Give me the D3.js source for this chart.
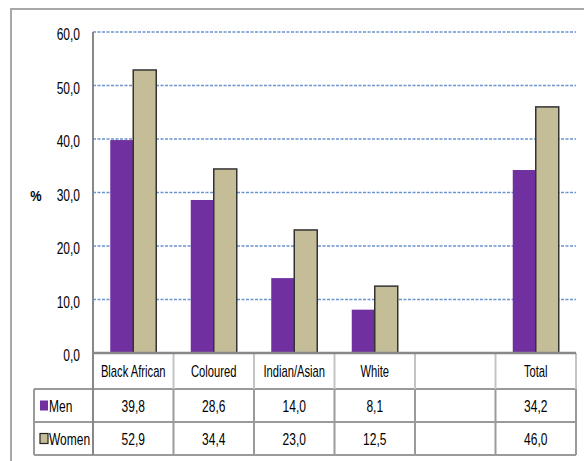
<!DOCTYPE html>
<html><head><meta charset="utf-8">
<script src="https://cdn.jsdelivr.net/npm/d3@7"></script>
<style>
body{margin:0;background:#fff;}
svg text{font-family:"Liberation Sans",Arial,sans-serif;fill:#000;}
</style></head>
<body><svg id="c" width="584" height="461"></svg>
<script>
const categories = ["Black African","Coloured","Indian/Asian","White","","Total"];
const men = [39.8, 28.6, 14.0, 8.1, null, 34.2];
const women = [52.9, 34.4, 23.0, 12.5, null, 46.0];
const seriesNames = ["Men","Women"];
const yTicks = [0,10,20,30,40,50,60];

const colors = {Men:"#7030A0", Women:"#C4BD97"};
const fmt = v => v==null ? "" : v.toFixed(1).replace(".", ",");

const svg = d3.select("#c");
const L = 93, R = 576, T = 32, B = 353;
const rowH = [36, 33, 33];
const SX = 0.75;

// condensed text helper
function ctext(parent, x, y, str, opts={}){
  const g = parent.append("g").attr("transform",`translate(${x},${y}) scale(${opts.sx||SX},1)`);
  return g.append("text").attr("x",0).attr("y",0)
    .attr("text-anchor",opts.anchor||"start")
    .attr("font-size",opts.size||16)
    .attr("font-weight",opts.weight||null)
    .text(str);
}

// outer frame
svg.append("path").attr("d",`M11,461 V9 H584`).attr("fill","none").attr("stroke","#a8a8a8").attr("stroke-width",2);

const x = d3.scaleBand().domain(d3.range(categories.length)).range([L,R]).paddingInner(0).paddingOuter(0);
const y = d3.scaleLinear().domain([0,60]).range([B,T]);
const xs = d3.scaleBand().domain(seriesNames).range([0,x.bandwidth()]).paddingInner(0).paddingOuter(0.75);

// gridlines
svg.append("g").selectAll("line").data(yTicks.filter(t=>t>0)).join("line")
  .attr("x1",L).attr("x2",R).attr("y1",d=>y(d)).attr("y2",d=>y(d))
  .attr("stroke","#6b93cc").attr("stroke-width",1.3).attr("stroke-dasharray","3,1.5");

// y tick labels
const ga = svg.append("g");
yTicks.forEach(t=>{
  ctext(ga, 80, y(t)+8, t.toFixed(1).replace(".",","), {anchor:"end", size:16});
});

ctext(svg, 36, y(30)+8, "%", {anchor:"middle", size:15, weight:"bold", sx:0.85});

// bars
const data = [];
categories.forEach((c,i)=>{
  if(men[i]!=null) data.push({i, s:"Men", v:men[i]});
  if(women[i]!=null) data.push({i, s:"Women", v:women[i]});
});
svg.append("g").selectAll("rect").data(data).join("rect")
  .attr("x",d=>x(d.i)+xs(d.s))
  .attr("width",xs.bandwidth())
  .attr("y",d=>y(d.v))
  .attr("height",d=>B-y(d.v))
  .attr("fill",d=>colors[d.s])
  .attr("stroke",d=>d.s==="Women"?"#333":"none")
  .attr("stroke-width",1.5);

// table
const tg = svg.append("g");
const y0 = B, y1 = B+rowH[0], y2 = y1+rowH[1], y3 = y2+rowH[2];
const lineC = "#9a9a9a";
[[34,R,y1],[34,R,y2],[34,R,y3]].forEach(([a,b,yy])=>{
  tg.append("line").attr("x1",a).attr("x2",b).attr("y1",yy).attr("y2",yy).attr("stroke",lineC).attr("stroke-width",2);
});
categories.forEach((c,i)=>{
  if(i>0){
    tg.append("line").attr("x1",x(i)).attr("x2",x(i)).attr("y1",y0).attr("y2",y1).attr("stroke","#c4c4c4").attr("stroke-width",2);
    tg.append("line").attr("x1",x(i)).attr("x2",x(i)).attr("y1",y1).attr("y2",y3).attr("stroke",lineC).attr("stroke-width",2);
  }
});
tg.append("line").attr("x1",R).attr("x2",R).attr("y1",y0).attr("y2",y1).attr("stroke","#c4c4c4").attr("stroke-width",2);
tg.append("line").attr("x1",R).attr("x2",R).attr("y1",y1).attr("y2",y3).attr("stroke",lineC).attr("stroke-width",2);
tg.append("line").attr("x1",34).attr("x2",34).attr("y1",y1).attr("y2",y3).attr("stroke",lineC).attr("stroke-width",2);
// axis lines
svg.append("line").attr("x1",L).attr("x2",L).attr("y1",T).attr("y2",y3).attr("stroke","#888").attr("stroke-width",2);
svg.append("line").attr("x1",L).attr("x2",R).attr("y1",B).attr("y2",B).attr("stroke","#888").attr("stroke-width",2.5);

// category labels
categories.forEach((c,i)=>{
  ctext(tg, x(i)+x.bandwidth()/2, (y0+y1)/2+6, c, {anchor:"middle", size:16, sx:0.7});
});

// value rows
[[men,y1,"Men"],[women,y2,"Women"]].forEach(([arr,yy,name])=>{
  arr.forEach((v,i)=>{
    ctext(tg, x(i)+x.bandwidth()/2, yy+rowH[1]/2+6, fmt(v), {anchor:"middle", size:16});
  });
  tg.append("rect").attr("x",40).attr("y",yy+rowH[1]/2-5).attr("width",8).attr("height",10)
    .attr("fill",colors[name]).attr("stroke",name==="Women"?"#222":"none").attr("stroke-width",1.2);
  ctext(tg, 49, yy+rowH[1]/2+6, name, {anchor:"start", size:16});
});
</script></body></html>
